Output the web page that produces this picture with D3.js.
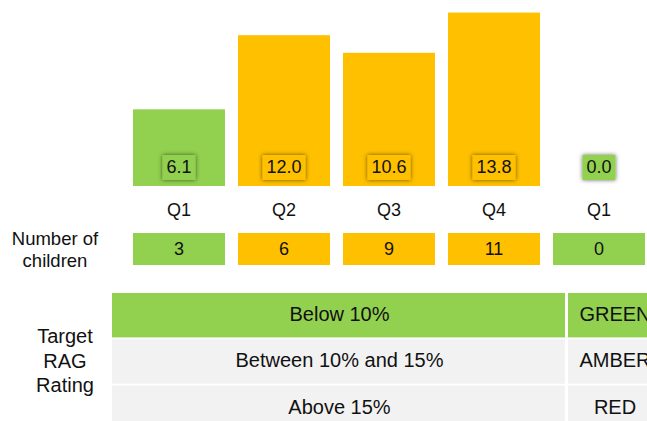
<!DOCTYPE html>
<html>
<head>
<meta charset="utf-8">
<script src="https://cdn.jsdelivr.net/npm/d3@7"></script>
<style>
  html, body { margin: 0; padding: 0; background: #fff; }
  body, svg, text { font-family: "Liberation Sans", Arimo, Arial, Helvetica, sans-serif; }
</style>
</head>
<body>
<svg id="chart"></svg>
<script>
// quarters shown (last one is the new year's Q1)
const quarters = ["Q1", "Q2", "Q3", "Q4", "Q1"];
const rates = [6.1, 12.0, 10.6, 13.8, 0.0];
const children = [3, 6, 9, 11, 0];

// RAG legend table
const ragBands = ["Below 10%", "Between 10% and 15%", "Above 15%"];
const ragNames = ["GREEN", "AMBER", "RED"];

const GREEN = "#92D050", AMBER = "#FFC000", RED = "#FF0000";
const ragColor = v => v < 10 ? GREEN : (v <= 15 ? AMBER : RED);
const FONT = "Liberation Sans, Arial, sans-serif";

const width = 647, height = 421;
const svg = d3.select("#chart")
  .attr("width", width).attr("height", height)
  .attr("font-family", FONT);

// soft shadow for the value labels
const defs = svg.append("defs");
defs.append("filter").attr("id", "shadow")
  .attr("x", "-40%").attr("y", "-40%").attr("width", "180%").attr("height", "180%")
  .append("feDropShadow")
  .attr("dx", 0).attr("dy", 0).attr("stdDeviation", 2.2)
  .attr("flood-color", "#000").attr("flood-opacity", 0.6);

const idx = d3.range(quarters.length);

const x = d3.scaleBand()
  .domain(idx)
  .range([126.5, 651.5])
  .paddingInner(0.124)
  .paddingOuter(0.062);

const y = d3.scaleLinear()
  .domain([0, 14.8])
  .range([186, 0]);

const g = svg.append("g");

// bars
g.selectAll("rect.bar")
  .data(idx)
  .join("rect")
  .attr("class", "bar")
  .attr("x", i => x(i))
  .attr("width", x.bandwidth())
  .attr("y", i => y(rates[i]))
  .attr("height", i => y(0) - y(rates[i]))
  .attr("fill", i => ragColor(rates[i]));

// value labels in boxes at the foot of each bar
const lab = g.selectAll("g.vlabel")
  .data(idx)
  .join("g")
  .attr("class", "vlabel")
  .attr("transform", i => `translate(${x(i) + x.bandwidth() / 2},${y(0) - 19})`);

lab.append("text")
  .attr("text-anchor", "middle")
  .attr("dy", "0.35em")
  .attr("font-size", 18)
  .attr("fill", "#111")
  .text(i => rates[i].toFixed(1))
  .each(function (i) {
    const w = this.getComputedTextLength();
    d3.select(this.parentNode).insert("rect", "text")
      .attr("x", -w / 2 - 4)
      .attr("y", -12)
      .attr("width", w + 8)
      .attr("height", 25)
      .attr("fill", ragColor(rates[i]))
      .attr("filter", "url(#shadow)");
  });

// quarter labels
g.selectAll("text.qlabel")
  .data(idx)
  .join("text")
  .attr("class", "qlabel")
  .attr("x", i => x(i) + x.bandwidth() / 2)
  .attr("y", 210)
  .attr("dy", "0.35em")
  .attr("text-anchor", "middle")
  .attr("font-size", 18)
  .attr("fill", "#111")
  .text(i => quarters[i]);

// number of children row
g.selectAll("rect.nbox")
  .data(idx)
  .join("rect")
  .attr("class", "nbox")
  .attr("x", i => x(i))
  .attr("width", x.bandwidth())
  .attr("y", 233)
  .attr("height", 32)
  .attr("fill", i => ragColor(rates[i]));

g.selectAll("text.nlabel")
  .data(idx)
  .join("text")
  .attr("class", "nlabel")
  .attr("x", i => x(i) + x.bandwidth() / 2)
  .attr("y", 249)
  .attr("dy", "0.35em")
  .attr("text-anchor", "middle")
  .attr("font-size", 18)
  .attr("fill", "#111")
  .text(i => children[i]);

svg.append("text")
  .attr("text-anchor", "middle")
  .attr("font-size", 18.5)
  .attr("fill", "#111")
  .selectAll("tspan")
  .data(["Number of", "children"])
  .join("tspan")
  .attr("x", 55)
  .attr("y", (d, i) => 239 + i * 22)
  .attr("dy", "0.35em")
  .text(d => d);

// RAG table
const rowY = d3.scaleBand().domain(d3.range(ragBands.length)).range([293, 430]).paddingInner(0.04);
const rowFill = [GREEN, "#F2F2F2", "#F2F2F2"];
const col1 = [112, 565], col2 = [568, 662];

const rows = svg.append("g").selectAll("g.row")
  .data(d3.range(ragBands.length))
  .join("g")
  .attr("class", "row");

rows.append("rect")
  .attr("x", col1[0]).attr("width", col1[1] - col1[0])
  .attr("y", i => rowY(i)).attr("height", rowY.bandwidth())
  .attr("fill", i => rowFill[i]);
rows.append("rect")
  .attr("x", col2[0]).attr("width", col2[1] - col2[0])
  .attr("y", i => rowY(i)).attr("height", rowY.bandwidth())
  .attr("fill", i => rowFill[i]);

rows.append("text")
  .attr("x", (col1[0] + col1[1]) / 2 + 1)
  .attr("y", i => rowY(i) + 21)
  .attr("dy", "0.35em")
  .attr("text-anchor", "middle")
  .attr("font-size", 20)
  .attr("fill", "#111")
  .text(i => ragBands[i]);
rows.append("text")
  .attr("x", (col2[0] + col2[1]) / 2)
  .attr("y", i => rowY(i) + 21)
  .attr("dy", "0.35em")
  .attr("text-anchor", "middle")
  .attr("font-size", 20)
  .attr("fill", "#111")
  .text(i => ragNames[i]);

svg.append("text")
  .attr("text-anchor", "middle")
  .attr("font-size", 20)
  .attr("fill", "#111")
  .selectAll("tspan")
  .data(["Target", "RAG", "Rating"])
  .join("tspan")
  .attr("x", 65)
  .attr("y", (d, i) => 336 + i * 24.5)
  .attr("dy", "0.35em")
  .text(d => d);
</script>
</body>
</html>
